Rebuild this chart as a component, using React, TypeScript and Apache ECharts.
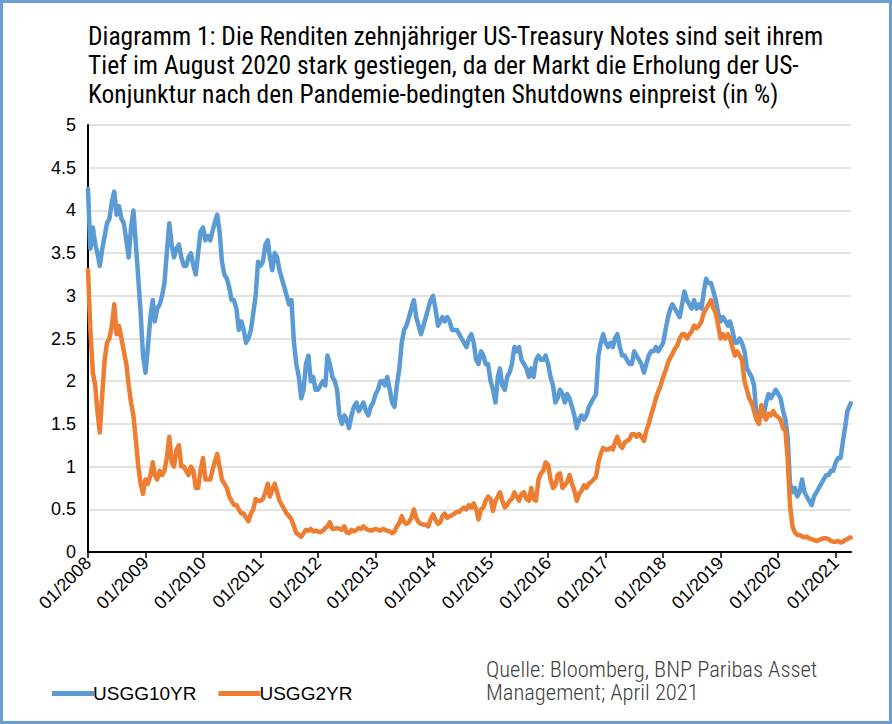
import React, { useEffect, useRef } from "react";
import * as echarts from "echarts";

const TITLE_FONT = '"Liberation Sans Narrow", "Roboto Condensed", "DejaVu Sans Condensed", Lato, sans-serif';
const AXIS_FONT = '"Liberation Sans", Arial, Helvetica, sans-serif';

const titleLines = [
  "Diagramm 1: Die Renditen zehnjähriger US-Treasury Notes sind seit ihrem",
  "Tief im August 2020 stark gestiegen, da der Markt die Erholung der US-",
  "Konjunktur nach den Pandemie-bedingten Shutdowns einpreist (in %)",
];
const sourceLines = ["Quelle: Bloomberg, BNP Paribas Asset", "Management; April 2021"];

const seriesNames = ["USGG10YR", "USGG2YR"];
const seriesColors = ["#5B9BD5", "#ED7D31"];

// x-axis ticks: every January from 2008 to 2021
const yearTicks = [2008, 2009, 2010, 2011, 2012, 2013, 2014, 2015, 2016, 2017, 2018, 2019, 2020, 2021];
const axisStart = "2008-01-01";
const axisEnd = "2021-04-08";

// observation dates: the 1st and 16th of each month, last reading on 6 April 2021
const firstDate = "2008-01-01";
const lastRegularDate = "2021-04-01";
const lastDate = "2021-04-06";

// 10-year Treasury yield (%), one row per year, semi-monthly
const usgg10yr = [
  4.25, 3.55, 3.8, 3.6, 3.5, 3.35, 3.55, 3.7, 3.85, 3.9, 4.1, 4.22, 3.95, 4.05, 3.9, 3.85, 3.65, 3.45, 3.8, 4.0, 3.6, 3.2, 2.8, 2.3,
  2.1, 2.4, 2.75, 2.95, 2.7, 2.85, 2.9, 3.0, 3.15, 3.5, 3.85, 3.6, 3.45, 3.55, 3.6, 3.45, 3.35, 3.35, 3.45, 3.5, 3.35, 3.25, 3.5, 3.75,
  3.8, 3.65, 3.7, 3.65, 3.75, 3.85, 3.95, 3.75, 3.4, 3.25, 3.2, 3.1, 2.95, 2.95, 2.85, 2.6, 2.7, 2.6, 2.45, 2.5, 2.6, 2.8, 3.0, 3.4,
  3.35, 3.4, 3.6, 3.65, 3.45, 3.3, 3.5, 3.45, 3.3, 3.2, 3.1, 3.0, 2.9, 2.95, 2.45, 2.2, 2.05, 1.8, 1.9, 2.2, 2.3, 2.0, 2.05, 1.9,
  1.9, 1.95, 2.0, 1.95, 2.3, 2.2, 2.05, 2.0, 1.9, 1.6, 1.5, 1.6, 1.55, 1.45, 1.6, 1.7, 1.75, 1.65, 1.7, 1.75, 1.65, 1.6, 1.7, 1.75,
  1.85, 1.9, 2.0, 2.0, 1.95, 2.05, 1.9, 1.75, 1.7, 1.95, 2.15, 2.45, 2.6, 2.65, 2.75, 2.85, 2.95, 2.75, 2.65, 2.55, 2.65, 2.75, 2.85, 2.95,
  3.0, 2.85, 2.65, 2.7, 2.75, 2.7, 2.75, 2.7, 2.6, 2.6, 2.6, 2.55, 2.5, 2.45, 2.4, 2.5, 2.55, 2.45, 2.25, 2.2, 2.35, 2.3, 2.2, 2.2,
  2.0, 1.9, 1.75, 2.05, 2.15, 1.95, 1.9, 2.05, 2.1, 2.2, 2.4, 2.35, 2.4, 2.25, 2.2, 2.15, 2.05, 2.15, 2.05, 2.25, 2.3, 2.25, 2.25, 2.3,
  2.2, 2.05, 1.95, 1.75, 1.8, 1.9, 1.85, 1.75, 1.85, 1.8, 1.7, 1.6, 1.45, 1.55, 1.6, 1.55, 1.6, 1.7, 1.75, 1.8, 1.85, 2.3, 2.45, 2.55,
  2.45, 2.4, 2.45, 2.4, 2.5, 2.55, 2.4, 2.3, 2.3, 2.25, 2.2, 2.2, 2.35, 2.3, 2.25, 2.2, 2.1, 2.2, 2.3, 2.35, 2.35, 2.4, 2.35, 2.4,
  2.45, 2.6, 2.75, 2.85, 2.9, 2.85, 2.8, 2.75, 2.9, 3.05, 2.95, 2.9, 2.85, 2.95, 2.85, 2.9, 2.85, 3.05, 3.2, 3.15, 3.15, 3.05, 2.95, 2.8,
  2.7, 2.75, 2.7, 2.65, 2.7, 2.6, 2.45, 2.45, 2.5, 2.45, 2.35, 2.15, 2.1, 2.05, 1.95, 1.6, 1.55, 1.7, 1.6, 1.75, 1.85, 1.8, 1.85, 1.9,
  1.85, 1.8, 1.65, 1.55, 1.35, 0.8, 0.7, 0.75, 0.65, 0.7, 0.85, 0.7, 0.65, 0.6, 0.55, 0.65, 0.7, 0.75, 0.8, 0.85, 0.9, 0.9, 0.95, 0.95,
  1.05, 1.1, 1.1, 1.3, 1.45, 1.65, 1.72, 1.74,
];

// 2-year Treasury yield (%), same dates
const usgg2yr = [
  3.3, 2.6, 2.1, 1.95, 1.65, 1.4, 1.85, 2.25, 2.45, 2.5, 2.65, 2.9, 2.55, 2.65, 2.5, 2.35, 2.2, 1.95, 1.75, 1.6, 1.3, 1.0, 0.8, 0.68,
  0.85, 0.8, 0.9, 1.05, 0.9, 0.85, 0.95, 0.9, 0.95, 1.1, 1.35, 1.05, 1.0, 1.2, 1.25, 1.0, 1.0, 0.95, 0.9, 1.0, 0.95, 0.75, 0.75, 0.95,
  1.1, 0.85, 0.85, 0.85, 0.95, 1.05, 1.15, 1.0, 0.85, 0.8, 0.75, 0.65, 0.6, 0.55, 0.55, 0.5, 0.45, 0.45, 0.4, 0.36, 0.45, 0.5, 0.62, 0.6,
  0.6, 0.62, 0.7, 0.8, 0.65, 0.72, 0.8, 0.7, 0.6, 0.55, 0.5, 0.45, 0.42, 0.38, 0.3, 0.22, 0.2, 0.18, 0.22, 0.26, 0.25, 0.27, 0.24, 0.25,
  0.24, 0.23, 0.25, 0.28, 0.3, 0.35, 0.27, 0.27, 0.28, 0.27, 0.26, 0.3, 0.23, 0.22, 0.26, 0.24, 0.26, 0.28, 0.27, 0.3, 0.27, 0.26, 0.25, 0.26,
  0.27, 0.26, 0.25, 0.27, 0.26, 0.25, 0.24, 0.22, 0.24, 0.3, 0.34, 0.42, 0.35, 0.33, 0.35, 0.4, 0.5, 0.4, 0.35, 0.33, 0.32, 0.32, 0.3, 0.38,
  0.44, 0.38, 0.33, 0.35, 0.42, 0.45, 0.4, 0.42, 0.43, 0.45, 0.47, 0.47, 0.5, 0.52, 0.5, 0.55, 0.52, 0.57, 0.5, 0.38, 0.5, 0.52, 0.6, 0.65,
  0.62, 0.48, 0.6, 0.65, 0.7, 0.6, 0.52, 0.55, 0.6, 0.62, 0.7, 0.65, 0.6, 0.68, 0.7, 0.62, 0.6, 0.75, 0.62, 0.6, 0.85, 0.92, 0.95, 1.05,
  1.02, 0.85, 0.75, 0.78, 0.9, 0.92, 0.75, 0.78, 0.82, 0.9, 0.8, 0.72, 0.6, 0.68, 0.72, 0.78, 0.75, 0.8, 0.82, 0.85, 0.88, 1.05, 1.15, 1.22,
  1.2, 1.2, 1.22, 1.2, 1.28, 1.35, 1.25, 1.22, 1.28, 1.3, 1.32, 1.38, 1.38, 1.35, 1.38, 1.35, 1.3, 1.42, 1.5, 1.6, 1.7, 1.8, 1.88, 1.95,
  2.05, 2.12, 2.22, 2.28, 2.32, 2.38, 2.42, 2.5, 2.55, 2.55, 2.5, 2.55, 2.58, 2.65, 2.62, 2.65, 2.7, 2.8, 2.85, 2.9, 2.95, 2.85, 2.8, 2.65,
  2.5, 2.55, 2.5, 2.55, 2.5, 2.4, 2.3, 2.35, 2.3, 2.25, 2.0, 1.9, 1.8, 1.75, 1.65, 1.55, 1.5, 1.72, 1.6, 1.55, 1.62, 1.6, 1.65, 1.6,
  1.58, 1.55, 1.45, 1.42, 1.1, 0.55, 0.3, 0.23, 0.2, 0.2, 0.18, 0.17, 0.18, 0.16, 0.15, 0.14, 0.13, 0.14, 0.15, 0.16, 0.16, 0.15, 0.13, 0.12,
  0.12, 0.13, 0.11, 0.12, 0.14, 0.15, 0.17, 0.17,
];

function pad(n: number): string {
  return n < 10 ? "0" + n : String(n);
}

function buildDates(): string[] {
  const out: string[] = [];
  const [y0] = firstDate.split("-").map(Number);
  for (let y = y0; ; y++) {
    for (let m = 1; m <= 12; m++) {
      for (const d of [1, 16]) {
        const s = `${y}-${pad(m)}-${pad(d)}`;
        if (s > lastRegularDate) {
          out.push(lastDate);
          return out;
        }
        out.push(s);
      }
    }
  }
}

// date string -> fractional year, used as the x value
function yearFraction(s: string): number {
  const [y, m, d] = s.split("-").map(Number);
  const start = Date.UTC(y, 0, 1);
  const end = Date.UTC(y + 1, 0, 1);
  return y + (Date.UTC(y, m - 1, d) - start) / (end - start);
}

const dates = buildDates();

export default function App() {
  const ref = useRef<HTMLDivElement>(null);

  useEffect(() => {
    document.body.style.margin = "0";
    if (!ref.current) return;
    const chart = echarts.init(ref.current, null, { renderer: "svg" });

    const toPairs = (vals: number[]) => dates.map((d, i) => [yearFraction(d), vals[i]]);

    chart.setOption({
      animation: false,
      backgroundColor: "#ffffff",
      title: {
        text: titleLines.join("\n"),
        left: 83,
        top: 16,
        textStyle: {
          fontFamily: TITLE_FONT,
          fontSize: 25.5,
          fontWeight: "normal",
          color: "#000000",
          lineHeight: 29,
        },
      },
      grid: { left: 88, right: 41, top: 125, bottom: 172, containLabel: false },
      legend: {
        data: seriesNames,
        left: 47,
        top: 679,
        icon: "rect",
        itemWidth: 42,
        itemHeight: 5,
        itemGap: 22,
        textStyle: { fontFamily: AXIS_FONT, fontSize: 19, color: "#000000", padding: [0, 0, 0, -6] },
      },
      xAxis: {
        type: "value",
        min: yearFraction(axisStart),
        max: yearFraction(axisEnd),
        axisLine: { show: true, lineStyle: { color: "#000000", width: 2 } },
        axisTick: {
          show: true,
          customValues: yearTicks,
          length: 6,
          lineStyle: { color: "#000000", width: 1.5 },
        },
        axisLabel: {
          customValues: yearTicks,
          formatter: (v: number) => "01/" + Math.round(v),
          rotate: 45,
          margin: 8,
          fontFamily: AXIS_FONT,
          fontSize: 18,
          color: "#000000",
        },
        splitLine: { show: false },
      },
      yAxis: {
        type: "value",
        min: 0,
        max: 5,
        interval: 0.5,
        axisLine: { show: true, lineStyle: { color: "#000000", width: 2 } },
        axisTick: { show: false },
        axisLabel: {
          margin: 12,
          fontFamily: AXIS_FONT,
          fontSize: 18,
          color: "#000000",
        },
        splitLine: { lineStyle: { color: "#d9d9d9", width: 1.5 } },
      },
      series: [
        {
          name: seriesNames[0],
          type: "line",
          data: toPairs(usgg10yr),
          showSymbol: false,
          symbol: "none",
          color: seriesColors[0],
          lineStyle: { width: 4.5, color: seriesColors[0], join: "round", cap: "round" },
          z: 2,
        },
        {
          name: seriesNames[1],
          type: "line",
          data: toPairs(usgg2yr),
          showSymbol: false,
          symbol: "none",
          color: seriesColors[1],
          lineStyle: { width: 4.5, color: seriesColors[1], join: "round", cap: "round" },
          z: 3,
        },
      ],
      graphic: [
        ...sourceLines.map((line, i) => ({
          type: "text",
          left: 486,
          top: 657 + i * 23.5,
          style: {
            text: line,
            font: `300 22.5px ${TITLE_FONT}`,
            fill: "#404040",
          },
        })),
        {
          type: "rect",
          shape: { x: 1.5, y: 1.5, width: 889, height: 721 },
          style: { fill: "none", stroke: "#6B9ED3", lineWidth: 3 },
          silent: true,
        },
      ],
    });

    return () => chart.dispose();
  }, []);

  return <div ref={ref} style={{ width: 892, height: 724 }} />;
}
